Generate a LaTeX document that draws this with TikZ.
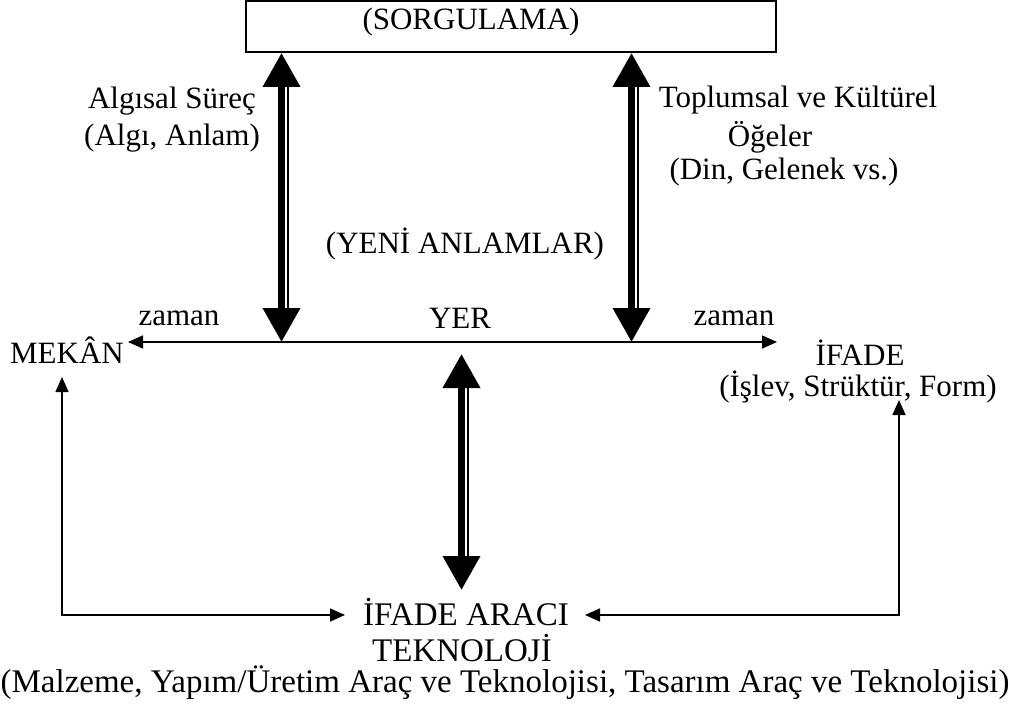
\documentclass[tikz,border=0pt]{standalone}
\usepackage{fontspec}
\setmainfont{Liberation Serif}
\usetikzlibrary{arrows.meta}
\begin{document}
\begin{tikzpicture}[x=1pt,y=-1pt,
  txt/.style={font=\fontsize{31}{36}\selectfont, inner sep=0pt, align=center, anchor=center},
  btxt/.style={font=\fontsize{33}{38}\selectfont, inner sep=0pt, align=center, anchor=center},
  thinline/.style={line width=1.6pt},
  smallhead/.style={{Triangle[width=13pt,length=15pt]}-{Triangle[width=13pt,length=15pt]}},
  bighead/.style={{Triangle[width=36pt,length=34pt]}-{Triangle[width=36pt,length=34pt]}}
]
\useasboundingbox (0,0) rectangle (1010,706);
% box
\node[draw, line width=1.6pt, minimum width=530pt, minimum height=51pt, inner sep=0pt] (sorg) at (511,26.5) {};
\node[txt] (sorgt) at (471,22) {(SORGULAMA)};
% texts
\node[txt] (alg1) at (172,101) {Algısal Süreç};
\node[txt] (alg2) at (172,138) {(Algı, Anlam)};
\node[txt] (top1) at (798,100) {Toplumsal ve Kültürel};
\node[txt] (top2) at (770,137) {Öğeler};
\node[txt] (top3) at (784,172) {(Din, Gelenek vs.)};
\node[txt] (yeni) at (465,244) {(YENİ ANLAMLAR)};
\node[txt] (zl) at (179,318) {zaman};
\node[txt] (yer) at (460,318) {YER};
\node[txt] (zr) at (734,318) {zaman};
\node[txt] (mekan) at (67,350) {MEKÂN};
\node[txt] (ifade) at (860,353) {İFADE};
\node[txt] (islev) at (858,387) {(İşlev, Strüktür, Form)};
\node[btxt] (arac) at (466,612) {İFADE ARACI};
\node[btxt] (tek) at (462,648) {TEKNOLOJİ};
\node[btxt] (malz) at (505,683) {(Malzeme, Yapım/Üretim Araç ve Teknolojisi, Tasarım Araç ve Teknolojisi)};
% coordinates
\coordinate (lt) at (283,53);
\coordinate (lb) at (283,342);
\coordinate (rt) at (633,53);
\coordinate (rb) at (633,342);
\coordinate (mt) at (463,354);
\coordinate (mb) at (463,590);
\coordinate (hl) at (128,342);
\coordinate (hr) at (777,342);
\coordinate (lc) at (62,615);
\coordinate (rc) at (899,615);
\coordinate (lup) at (62,377);
\coordinate (rup) at (899,400);
\coordinate (aw) at (345,615);
\coordinate (ae) at (585,615);
% horizontal line
\draw[thinline, smallhead] (hl) -- (hr);
% double arrows
\foreach \a/\b in {lt/lb, rt/rb, mt/mb}{
  \draw[line width=7pt, bighead] ([xshift=-1.5pt]\a) -- ([xshift=-1.5pt]\b);
  \draw[line width=2.5pt, shorten <=33pt, shorten >=33pt] ([xshift=5pt]\a) -- ([xshift=5pt]\b);
}
% brackets
\draw[thinline, smallhead] (lup) -- (lc) -- (aw);
\draw[thinline, smallhead] (rup) -- (rc) -- (ae);
\end{tikzpicture}
\end{document}
